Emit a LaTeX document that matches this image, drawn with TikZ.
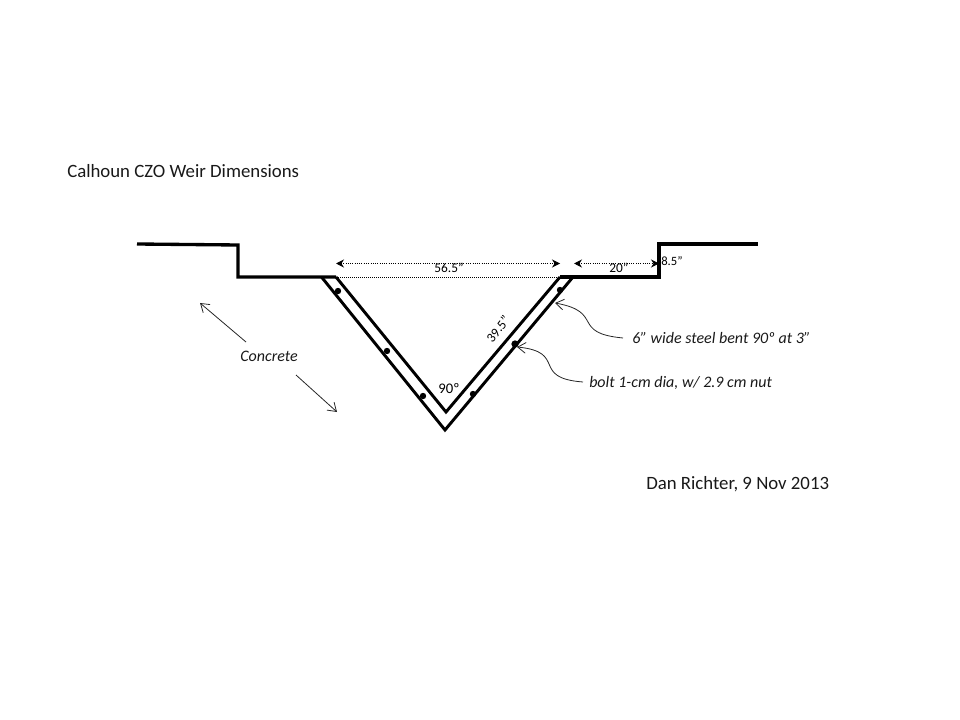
\documentclass[tikz,border=0pt]{standalone}
\usepackage{fontspec}
\setmainfont{Carlito}
\usetikzlibrary{arrows.meta}
\tikzset{
  weir/.style={line width=2.5pt,line join=miter},
  steel/.style={line width=2.2pt,line join=miter},
  bolt/.style={circle,fill=black,inner sep=0pt,minimum size=4.8pt},
  dim/.style={densely dotted,line width=0.7pt,{Stealth[length=6pt,width=6pt]}-{Stealth[length=6pt,width=6pt]}},
  lead/.style={line width=0.6pt,black!85,-{Straight Barb[length=6pt,width=8pt]}},
  dimlabel/.style={font=\fontsize{10}{12}\selectfont,inner sep=0pt},
  note/.style={font=\fontsize{12}{14}\selectfont\itshape,inner sep=0pt,text=black!90},
  headline/.style={font=\fontsize{14.1}{17}\selectfont,inner sep=0pt,text=black!90}
}
\begin{document}
\begin{tikzpicture}[x=0.75pt,y=-0.75pt]
\useasboundingbox (0,0) rectangle (960,720);
% ground line
\coordinate (gl) at (137,244);
\coordinate (gm) at (238,245);
\coordinate (bl) at (238,277);
\coordinate (br) at (659,277);
\coordinate (gn) at (659,244);
\coordinate (gr) at (758,244);
\coordinate (outl) at (321.5,277);
\coordinate (outb) at (445,430);
\coordinate (outr) at (573,277);
\coordinate (inl) at (336,277);
\coordinate (inb) at (446,412);
\coordinate (inr) at (560,277);
\draw[weir] (gl) -- (gm) -- (bl) -- (inl);
\draw[weir] (inr) -- (br) -- (gn) -- (gr);
\draw[steel] (outl) -- (outb) -- (outr);
\draw[steel] (inl) -- (inb) -- (inr);
\draw[densely dotted,line width=0.5pt] (inl) -- (inr);
% bolts
\node[bolt] (b1) at (338,291) {};
\node[bolt] (b2) at (387,351) {};
\node[bolt] (b3) at (423,396) {};
\node[bolt] (b4) at (473,394) {};
\node[bolt,minimum size=5.5pt] (b5) at (515,344) {};
\node[bolt] (b6) at (560,290) {};
% dimensions
\coordinate (d1) at (336,263.5);
\coordinate (d2) at (560,263.5);
\coordinate (d3) at (574,263.5);
\coordinate (d4) at (659,263.5);
\draw[dim] (d1) -- (d2);
\draw[dim] (d3) -- (d4);
\node[dimlabel] (wide) at (449,268) {56.5”};
\node[dimlabel] (shelf) at (619,268) {20”};
\node[dimlabel,anchor=west,font=\fontsize{9.5}{11}\selectfont] (step) at (661,261) {8.5”};
\node[dimlabel,rotate=52] (slope) at (498,329) {39.5”};
\node[font=\fontsize{11}{13}\selectfont,inner sep=0pt] (angle) at (449,389) {90º};
% notes
\node[headline,anchor=west] (title) at (67,171) {Calhoun CZO Weir Dimensions};
\node[headline,anchor=west] (sign) at (646,484.5) {Dan Richter, 9 Nov 2013};
\node[note] (conc) at (269,356) {Concrete};
\node[note,anchor=west] (steelnote) at (632,338) {6” wide steel bent 90º at 3”};
\node[note,anchor=west] (boltnote) at (589,383) {bolt 1-cm dia, w/ 2.9 cm nut};
% leaders
\coordinate (c1) at (246,342);
\coordinate (c2) at (200,303);
\coordinate (c3) at (296,375);
\coordinate (c4) at (337,412);
\coordinate (s1) at (623,338);
\coordinate (s2) at (555,303);
\coordinate (n1) at (583,382);
\coordinate (n2) at (517,347);
\draw[lead] (s1) .. controls (570,333) and (605,312) .. (s2);
\draw[lead] (n1) .. controls (530,378) and (568,352) .. (n2);
\draw[lead] (c1) -- (c2);
\draw[lead] (c3) -- (c4);
\end{tikzpicture}
\end{document}
